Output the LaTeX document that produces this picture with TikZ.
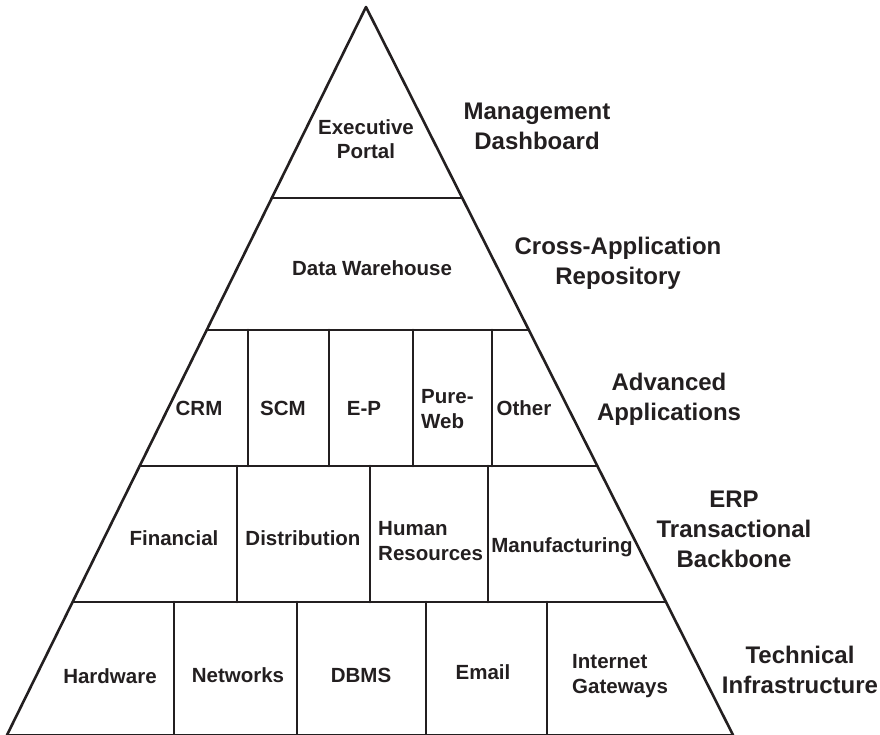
\documentclass[tikz,border=0pt]{standalone}
\usepackage{fontspec}
\setmainfont{Liberation Sans}
\usetikzlibrary{calc}
\definecolor{ink}{HTML}{231F20}
\tikzset{
  edge/.style={draw=ink, line width=2.6pt, line cap=round, line join=round},
  cell/.style={text=ink, font=\fontsize{20.5}{24.5}\selectfont\bfseries, align=center, inner sep=0pt},
  lcell/.style={cell, align=left, anchor=west},
  tier/.style={text=ink, font=\fontsize{24}{30}\selectfont\bfseries, align=center, inner sep=0pt}
}
\begin{document}
\begin{tikzpicture}[x=1pt,y=-1pt]
\useasboundingbox (0,0) rectangle (880,734);
% pyramid outline
\coordinate (apex) at (366,7);
\coordinate (bl) at (7,735);
\coordinate (br) at (733,735);
\draw[edge] (bl) -- (apex) -- (br);
\draw[edge] (bl) -- (br);
% tier boundaries
\foreach \y/\n in {198/a,330/b,466/c,602/d}{
  \coordinate (L\n) at ($(apex)!{(\y-7)/728}!(bl)$);
  \coordinate (R\n) at ($(apex)!{(\y-7)/728}!(br)$);
  \draw[edge] (L\n) -- (R\n);
}
% advanced applications row dividers
\foreach \x in {248,329,413,492}{
  \draw[edge] (\x,330) -- (\x,466);
}
% ERP row dividers
\foreach \x in {237,370,488}{
  \draw[edge] (\x,466) -- (\x,602);
}
% infrastructure row dividers
\foreach \x in {174,297,426,547}{
  \draw[edge] (\x,602) -- (\x,735);
}
% cell labels
\node[cell] (exec) at (366,139) {Executive\\Portal};
\node[cell] (dw) at (372,268) {Data Warehouse};
\node[cell] (crm) at (199,408) {CRM};
\node[cell] (scm) at (283,408) {SCM};
\node[cell] (ep) at (364,408) {E-P};
\node[lcell] (pw) at (421,409) {Pure-\\Web};
\node[cell] (oth) at (524,408) {Other};
\node[cell] (fin) at (174,538) {Financial};
\node[cell] (dist) at (303,538) {Distribution};
\node[lcell] (hr) at (378,541) {Human\\Resources};
\node[cell] (mfg) at (562,547) {Manufacturing};
\node[cell] (hw) at (110,676) {Hardware};
\node[cell] (net) at (238,675) {Networks};
\node[cell] (dbms) at (361,675) {DBMS};
\node[cell] (mail) at (483,672) {Email};
\node[lcell] (inet) at (572,676) {Internet\\Gateways};
% tier labels
\node[tier] (t1) at (537,126) {Management\\Dashboard};
\node[tier] (t2) at (618,263) {Cross-Application\\Repository};
\node[tier] (t3) at (669,399) {Advanced\\Applications};
\node[tier] (t4) at (734,529) {ERP\\Transactional\\Backbone};
\node[tier] (t5) at (800,670) {Technical\\Infrastructure};
\end{tikzpicture}
\end{document}
